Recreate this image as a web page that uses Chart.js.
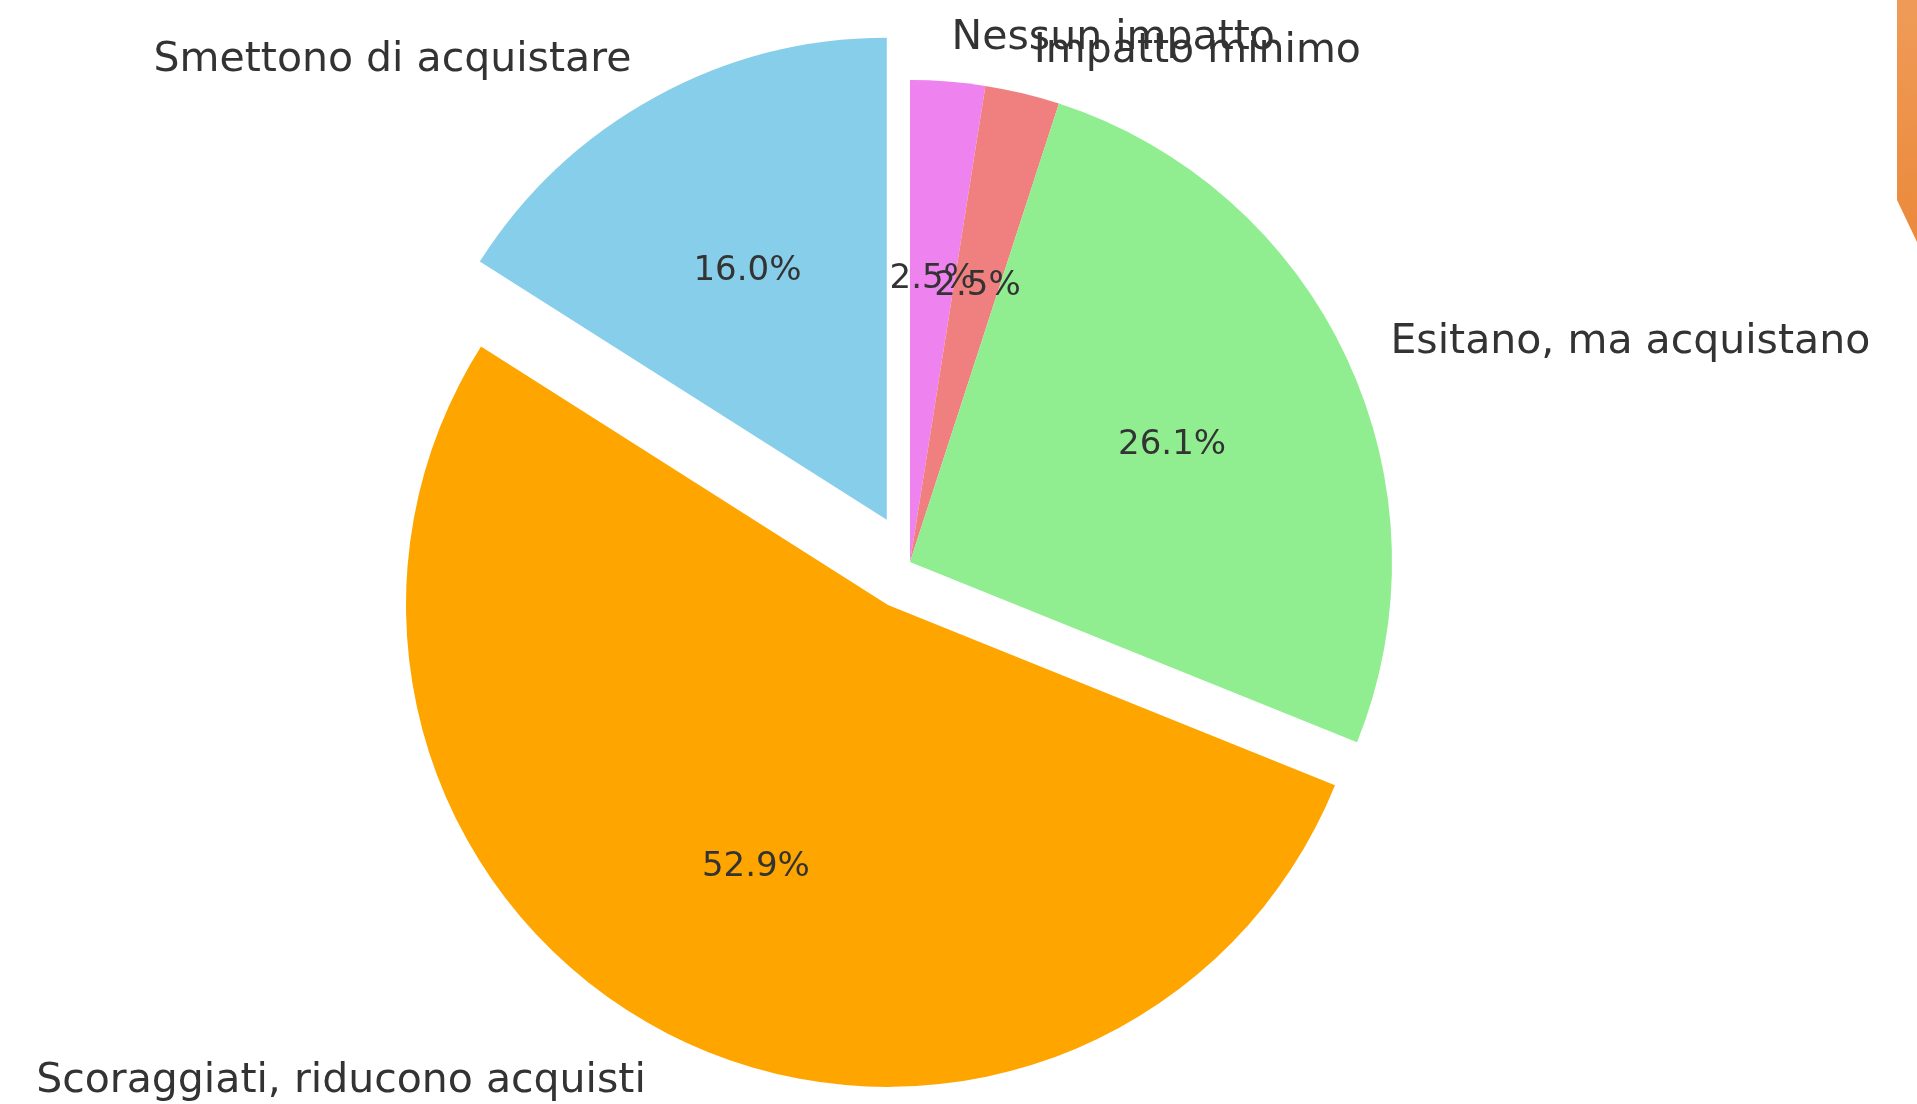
<!DOCTYPE html>
<html>
<head>
<meta charset="utf-8">
<script src="https://cdn.jsdelivr.net/npm/chart.js@4/dist/chart.umd.min.js"></script>
<style>
    html, body { margin: 0; padding: 0; background: #fff; }
    #wrap { position: relative; width: 1917px; height: 1104px; }
    #corner {
        position: absolute; left: 1897px; top: 0; width: 20px; height: 245px;
        background: linear-gradient(#ef9b58, #eb893a);
        clip-path: polygon(0 0, 20px 0, 20px 242px, 0 200px);
    }
</style>
</head>
<body>
<div id="wrap">
    <canvas id="chart" width="1917" height="1104"></canvas>
    <div id="corner"></div>
</div>
<script>
// clockwise from 12 o'clock (matplotlib drew them counter-clockwise)
const categories = ['Nessun impatto', 'Impatto minimo', 'Esitano, ma acquistano', 'Scoraggiati, riducono acquisti', 'Smettono di acquistare'];
const shares = [2.5, 2.5, 26.1, 52.9, 16.0];
const sliceColors = ['#ee82ee', '#f08080', '#90ee90', '#ffa500', '#87ceeb'];
const explodeFractions = [0, 0, 0, 0.1, 0.1];

const textColor = '#333333';
const pieRadius = 482;
const textNudge = 5; // matplotlib centres on the bbox incl. descender

// chart.js "offset" also grows/shrinks the arc, so move the centre instead (like matplotlib explode)
const explode = {
    id: 'explode',
    afterDatasetUpdate(chart, args) {
        const meta = chart.getDatasetMeta(args.index);
        meta.data.forEach((arc, i) => {
            const mid = (arc.startAngle + arc.endAngle) / 2;
            const off = explodeFractions[i] * arc.outerRadius;
            arc.x += Math.cos(mid) * off;
            arc.y += Math.sin(mid) * off;
        });
    }
};

// labels outside at 1.1 r, percentages at 0.6 r
const pieLabels = {
    id: 'pieLabels',
    afterDatasetsDraw(chart) {
        const ctx = chart.ctx;
        const meta = chart.getDatasetMeta(0);
        const total = shares.reduce((a, b) => a + b, 0);
        ctx.save();
        ctx.fillStyle = textColor;
        ctx.textBaseline = 'middle';
        meta.data.forEach((arc, i) => {
            const mid = (arc.startAngle + arc.endAngle) / 2;
            const r = arc.outerRadius;
            const cx = arc.x, cy = arc.y + textNudge;

            ctx.font = '41px "DejaVu Sans"';
            ctx.textAlign = Math.cos(mid) > 0 ? 'left' : 'right';
            ctx.fillText(categories[i], cx + Math.cos(mid) * r * 1.1, cy + Math.sin(mid) * r * 1.1);

            ctx.font = '34px "DejaVu Sans"';
            ctx.textAlign = 'center';
            let pct = (shares[i] / total * 100).toFixed(1) + '%';
            ctx.fillText(pct, cx + Math.cos(mid) * r * 0.6, cy + Math.sin(mid) * r * 0.6);
        });
        ctx.restore();
    }
};

new Chart(document.getElementById('chart').getContext('2d'), {
    type: 'pie',
    data: {
        labels: categories,
        datasets: [{
            data: shares,
            backgroundColor: sliceColors,
            borderWidth: 0,
            clip: false
        }]
    },
    options: {
        responsive: false,
        animation: false,
        radius: pieRadius,
        layout: {
            padding: { left: 0, right: 97, top: 20, bottom: 0 }
        },
        plugins: {
            legend: { display: false },
            tooltip: { enabled: false }
        }
    },
    plugins: [explode, pieLabels]
});
</script>
</body>
</html>
